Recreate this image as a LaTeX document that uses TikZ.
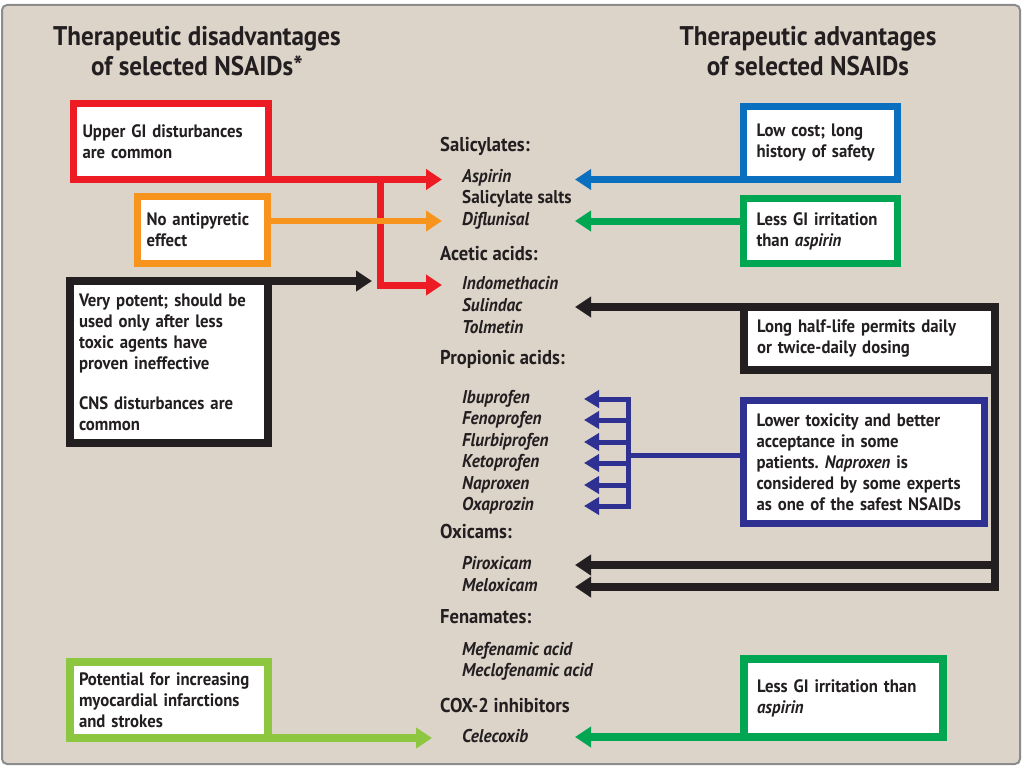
\documentclass[tikz,border=0pt]{standalone}
\usepackage{fontspec}
\setmainfont{PT Sans}[FakeStretch=0.93]
\usetikzlibrary{arrows.meta}

\definecolor{nsred}{HTML}{ED1C24}
\definecolor{nsorange}{HTML}{F7941D}
\definecolor{nsblack}{HTML}{231F20}
\definecolor{nsblue}{HTML}{0A6FBE}
\definecolor{nsgreen}{HTML}{00A651}
\definecolor{nsnavy}{HTML}{2E3192}
\definecolor{nslime}{HTML}{8DC63F}
\definecolor{nsbg}{HTML}{DCD3C9}

\newcommand\nstitle{\fontsize{27}{30}\selectfont\bfseries}
\newcommand\nsgroup{\fontsize{20}{22}\selectfont\bfseries}
\newcommand\nsdrug{\fontsize{18.5}{21}\selectfont\bfseries\itshape}
\newcommand\nsbox{\fontsize{18}{21}\selectfont\bfseries}
\frenchspacing

\begin{document}
\begin{tikzpicture}[x=1pt, y=-1pt, text=nsblack,
	panel/.style={draw=#1, fill=white, line width=7pt, align=left, inner xsep=9pt, inner ysep=0pt, outer sep=0pt, font=\nsbox},
	rpanel/.style={panel=#1, inner xsep=13pt},
	link/.style={draw=#1, line width=7pt, -{Triangle[length=16pt, width=20pt]}},
	both link/.style={draw=#1, line width=8pt, {Triangle[length=16pt, width=20pt]}-{Triangle[length=16pt, width=20pt]}},
	thin link/.style={draw=#1, line width=5pt, -{Triangle[length=15pt, width=17pt]}},
	group/.style={anchor=west, inner sep=0pt, font=\nsgroup, text height=13pt, text depth=4pt},
	drug/.style={anchor=west, inner sep=0pt, font=\nsdrug, text height=12pt, text depth=4pt}]

	\useasboundingbox (0,0) rectangle (1024,768);
	\draw[black!45, line width=2pt, fill=nsbg, rounded corners=5pt] (2,5) rectangle (1020,764);

	% titles
	\node[font=\nstitle, align=center] (tleft) at (197,51) {Therapeutic disadvantages\\of selected NSAIDs*};
	\node[font=\nstitle, align=center] (tright) at (808,51) {Therapeutic advantages\\of selected NSAIDs};

	% middle column: classes and drugs
	\node[group] (salic) at (440,147) {Salicylates:};
	\node[drug] (aspirin) at (462,178) {Aspirin};
	\node[drug] (salts) at (462,199) {\upshape Salicylate salts};
	\node[drug] (diflu) at (462,221) {Diflunisal};
	\node[group] (acetic) at (440,256) {Acetic acids:};
	\node[drug] (indo) at (462,285) {Indomethacin};
	\node[drug] (sulin) at (462,307) {Sulindac};
	\node[drug] (tolm) at (462,329) {Tolmetin};
	\node[group] (propi) at (440,360) {Propionic acids:};
	\node[drug] (ibu) at (462,399) {Ibuprofen};
	\node[drug] (feno) at (462,420) {Fenoprofen};
	\node[drug] (flurbi) at (462,442) {Flurbiprofen};
	\node[drug] (keto) at (462,463) {Ketoprofen};
	\node[drug] (napro) at (462,485) {Naproxen};
	\node[drug] (oxa) at (462,506) {Oxaprozin};
	\node[group] (oxic) at (440,534) {Oxicams:};
	\node[drug] (pirox) at (462,565) {Piroxicam};
	\node[drug] (melox) at (462,587) {Meloxicam};
	\node[group] (fenam) at (440,619) {Fenamates:};
	\node[drug] (mefen) at (462,651) {Mefenamic acid};
	\node[drug] (meclo) at (462,672) {Meclofenamic acid};
	\node[group] (cox) at (440,708) {COX-2 inhibitors};
	\node[drug] (celec) at (462,738) {Celecoxib};

	% disadvantages
	\node[panel=nsred, minimum width=195pt, minimum height=76pt, text width=177pt] (upgi) at (171,141.5)
		{Upper GI disturbances\\are common};
	\node[panel=nsorange, minimum width=130pt, minimum height=67pt, text width=112pt] (noap) at (202.5,230)
		{No antipyretic\\effect};
	\node[panel=nsblack, line width=8pt, minimum width=198pt, minimum height=162pt, text width=180pt] (potent) at (169,362)
		{Very potent; should be\\used only after less\\toxic agents have\\proven ineffective\\[19pt]CNS disturbances are\\common};
	\node[panel=nslime, line width=8pt, minimum width=198pt, minimum height=76pt, text width=180pt] (potential) at (169,700)
		{Potential for increasing\\myocardial infarctions\\and strokes};

	% advantages
	\node[rpanel=nsblue, minimum width=154pt, minimum height=73pt, text width=128pt] (lowcost) at (820.5,143)
		{Low cost; long\\history of safety};
	\node[rpanel=nsgreen, minimum width=154pt, minimum height=65pt, text width=128pt] (lessgi) at (820.5,231)
		{Less GI irritation\\than \textit{aspirin}};
	\node[rpanel=nsblack, line width=8pt, minimum width=251pt, minimum height=63pt, text width=225pt] (halflife) at (869.5,338.5)
		{Long half-life permits daily\\or twice-daily dosing};
	\node[rpanel=nsnavy, minimum width=241pt, minimum height=123pt, text width=215pt] (lowtox) at (864,462)
		{Lower toxicity and better\\acceptance in some\\patients. \textit{Naproxen} is\\considered by some experts\\as one of the safest NSAIDs};
	\node[rpanel=nsgreen, line width=8pt, minimum width=199pt, minimum height=78pt, text width=173pt] (lessgib) at (843.5,698)
		{Less GI irritation than\\\textit{aspirin}};

	% arrow columns
	\coordinate (lcol) at (442,0);
	\coordinate (rcol) at (575,0);
	\coordinate (ncol) at (584,0);
	\coordinate (rj) at (380,0);
	\coordinate (nj) at (628,0);
	\coordinate (ctip) at (432,0);
	\coordinate (blkT) at (372,281);

	\draw[link=nsred] (upgi.south east) -- (upgi.south -| lcol);
	\draw[link=nsred] (upgi.south -| rj) |- (indo -| lcol);
	\draw[link=nsorange, line width=6pt] (noap.east |- diflu) -- (diflu -| lcol);
	\draw[link=nsblack, line width=8pt] (potent.north east) -- (blkT);
	\draw[link=nslime, line width=8pt] (potential.south east) -- (potential.south -| ctip);

	\draw[link=nsblue] (lowcost.south west) -- (lowcost.south -| rcol);
	\draw[link=nsgreen] (lessgi.west |- diflu) -- (diflu -| rcol);
	\draw[both link=nsblack] (halflife.north -| rcol) -- (halflife.north east) |- (melox -| rcol);
	\draw[link=nsblack, line width=8pt] (halflife.east |- pirox) -- (pirox -| rcol);
	\draw[link=nsgreen, line width=8pt] (lessgib.south west) -- (lessgib.south -| rcol);

	\draw[nsnavy, line width=5pt] ([yshift=7pt]lowtox.west) -- ([yshift=7pt]lowtox.west -| nj);
	\draw[nsnavy, line width=5pt, line cap=rect] (nj |- ibu) -- (nj |- oxa);
	\foreach \d in {ibu,feno,flurbi,keto,napro,oxa}
		\draw[thin link=nsnavy] (nj |- \d) -- (\d -| ncol);
\end{tikzpicture}
\end{document}
